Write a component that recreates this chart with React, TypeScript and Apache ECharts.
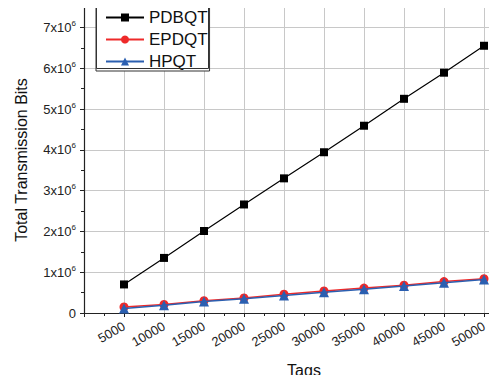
import React, { useEffect, useRef } from "react";
import * as echarts from "echarts";

const tags = [5000, 10000, 15000, 20000, 25000, 30000, 35000, 40000, 45000, 50000];
const pdbqt = [0.70e6, 1.35e6, 2.01e6, 2.66e6, 3.30e6, 3.94e6, 4.59e6, 5.25e6, 5.89e6, 6.55e6];
const epdqt = [0.15e6, 0.21e6, 0.30e6, 0.37e6, 0.46e6, 0.54e6, 0.61e6, 0.68e6, 0.77e6, 0.84e6];
const hpqt = [0.11e6, 0.19e6, 0.28e6, 0.35e6, 0.43e6, 0.51e6, 0.58e6, 0.66e6, 0.74e6, 0.82e6];
const yTicks = [0, 1e6, 2e6, 3e6, 4e6, 5e6, 6e6, 7e6];

const FONT = "Liberation Sans";
const GRID = "#c8c8c8";

export default function App() {
  const ref = useRef<HTMLDivElement>(null);
  useEffect(() => {
    if (!ref.current) return;
    const chart = echarts.init(ref.current, undefined, { renderer: "svg" });
    const pairs = (ys: number[]) => tags.map((t, i) => [t, ys[i]]);
    // gray for every whole-million line, nothing on the 7.5M top edge
    const ySplitColors = [...yTicks.map(() => GRID), "rgba(0,0,0,0)"];
    chart.setOption({
      animation: false,
      textStyle: { fontFamily: FONT },
      grid: { left: 84, top: 7, right: -27, bottom: 70, containLabel: false, outerBoundsMode: "none" },
      graphic: {
        elements: [
          {
            // legend frame
            type: "rect",
            z: 100,
            silent: true,
            shape: { x: 96.5, y: 6.5, width: 112, height: 62 },
            style: { fill: "none", stroke: "#333333", lineWidth: 1 },
          },
        ],
      },
      legend: {
        left: 96,
        top: 6,
        orient: "vertical",
        itemWidth: 38,
        itemHeight: 10,
        itemGap: 5,
        padding: [3, 2, 1, 9],
        backgroundColor: "#ffffff",
        borderColor: "#333333",
        borderWidth: 1,
        textStyle: { fontFamily: FONT, fontSize: 17, color: "#111" },
        data: ["PDBQT", "EPDQT", "HPQT"],
        z: 10,
      },
      xAxis: {
        type: "value",
        min: 0,
        max: 55000,
        interval: 5000,
        name: "Tags",
        nameLocation: "middle",
        nameGap: 49,
        nameTextStyle: { fontFamily: FONT, fontSize: 16, color: "#111" },
        axisLine: { show: true, lineStyle: { color: "#222", width: 1.2 } },
        axisTick: { show: true, inside: false, length: 4, lineStyle: { color: "#222" } },
        minorTick: { show: true, splitNumber: 2, length: 3, lineStyle: { color: "#222" } },
        splitLine: { show: true, lineStyle: { color: GRID, width: 1 } },
        axisLabel: {
          rotate: 30,
          fontSize: 13,
          color: "#222",
          margin: 12,
          formatter: (v: number) => (v === 0 || v > 50000 ? "" : String(v)),
        },
      },
      yAxis: {
        type: "value",
        min: 0,
        max: 7.5e6,
        interval: 1e6,
        name: "Total Transmission Bits",
        nameLocation: "middle",
        nameGap: 55,
        nameTextStyle: { fontFamily: FONT, fontSize: 16, color: "#111" },
        axisLine: { show: true, lineStyle: { color: "#222", width: 1.2 } },
        axisTick: { show: true, length: 4, customValues: yTicks, lineStyle: { color: "#222" } },
        minorTick: { show: true, splitNumber: 2, length: 3, lineStyle: { color: "#222" } },
        splitLine: { show: true, lineStyle: { color: ySplitColors, width: 1 } },
        axisLabel: {
          customValues: yTicks,
          color: "#222",
          fontSize: 13,
          margin: 8,
          formatter: (v: number) => (v === 0 ? "0" : `{b|${Math.round(v / 1e6)}x10}{s|6}`),
          rich: {
            b: { fontSize: 13, color: "#222", fontFamily: FONT },
            s: { fontSize: 8, color: "#222", fontFamily: FONT, padding: [0, 0, 8, 0] },
          },
        },
      },
      series: [
        {
          name: "PDBQT",
          type: "line",
          data: pairs(pdbqt),
          symbol: "rect",
          symbolSize: 8,
          color: "#000",
          lineStyle: { color: "#000", width: 1.2 },
          itemStyle: { color: "#000" },
          z: 3,
        },
        {
          name: "EPDQT",
          type: "line",
          data: pairs(epdqt),
          symbol: "circle",
          symbolSize: 9,
          color: "#ee2a2a",
          lineStyle: { color: "#ee2a2a", width: 1.5 },
          itemStyle: { color: "#ee2a2a" },
          z: 4,
        },
        {
          name: "HPQT",
          type: "line",
          data: pairs(hpqt),
          symbol: "triangle",
          symbolSize: 10,
          color: "#2b5fb0",
          lineStyle: { color: "#2b5fb0", width: 1.5 },
          itemStyle: { color: "#2b5fb0" },
          z: 5,
        },
      ],
    });
    return () => chart.dispose();
  }, []);
  return <div ref={ref} style={{ width: 497, height: 383, margin: -8 }} />;
}
